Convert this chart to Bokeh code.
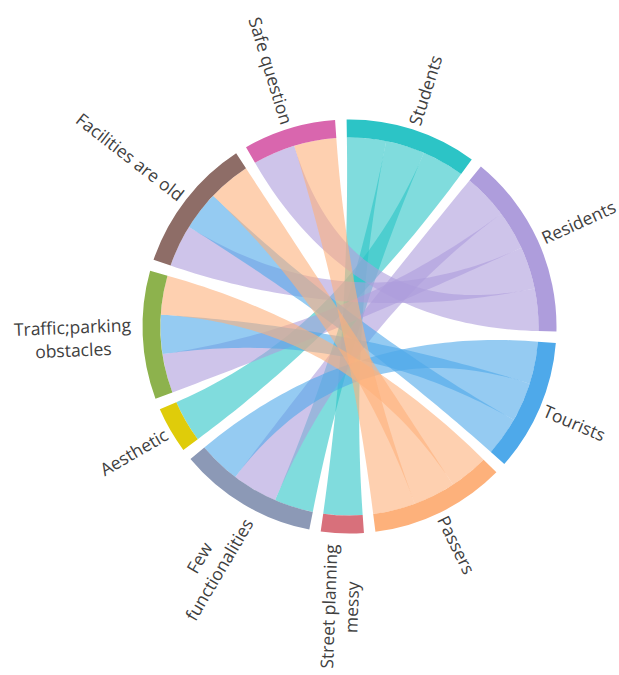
import numpy as np
from bokeh.plotting import figure
from bokeh.models import Range1d, ColumnDataSource
from bokeh.embed import file_html
from bokeh.resources import INLINE
from bokeh.core.properties import value

# ---------------- data ----------------
users = ["Students", "Residents", "Tourists", "Passers"]
problems = ["Street planning messy", "Few functionalities", "Aesthetic",
            "Traffic;parking obstacles", "Facilities are old", "Safe question"]
# links user -> problem (same order as problems)
students = [12, 12, 13, 0, 0, 0]
residents = [0, 14, 0, 12, 13, 13]
tourists = [0, 13, 0, 12, 12, 0]
passers = [0, 0, 0, 12, 13, 13]
label_lines = {
    "Street planning messy": ["Street planning", "messy"],
    "Few functionalities": ["Few", "functionalities"],
    "Traffic;parking obstacles": ["Traffic;parking", "obstacles"],
}
user_colors = ["#2cc4c6", "#ae9ddc", "#4ea9ea", "#fdb17b"]
problem_colors = ["#d8707b", "#8c99b6", "#dfcc0a", "#8db24d", "#8e6d67", "#d966ae"]

# ---------------- layout ----------------
matrix = [students, residents, tourists, passers]
names = users + problems
colors = user_colors + problem_colors
nu, npb = len(users), len(problems)
user_tot = [sum(r) for r in matrix]
prob_tot = [sum(matrix[u][j] for u in range(nu)) for j in range(npb)]
totals = user_tot + prob_tot

PAD = 3.2
START = -0.8
R_OUT, R_IN = 207.0, 189.0
k = (360.0 - len(names) * PAD) / sum(totals)

arcs = []
pos = START
for t in totals:
    arcs.append((pos, pos + t * k))
    pos += t * k + PAD

# sub-ranges (d3-chord default order: by index of the other group)
usub = {}
for u in range(nu):
    p0 = arcs[u][0]
    for j in range(npb):
        v = matrix[u][j]
        if v > 0:
            usub[(u, j)] = (p0, p0 + v * k)
            p0 += v * k
psub = {}
for j in range(npb):
    p0 = arcs[nu + j][0]
    for u in range(nu):
        v = matrix[u][j]
        if v > 0:
            psub[(u, j)] = (p0, p0 + v * k)
            p0 += v * k


def pt(theta, r):
    t = np.radians(theta)
    return r * np.sin(t), r * np.cos(t)


def arc_pts(a0, a1, r, n=40):
    th = np.radians(np.linspace(a0, a1, n))
    return r * np.sin(th), r * np.cos(th)


def quad_pts(p0, p2, n=60):
    t = np.linspace(0, 1, n)
    x = (1 - t) ** 2 * p0[0] + t ** 2 * p2[0]
    y = (1 - t) ** 2 * p0[1] + t ** 2 * p2[1]
    return x, y


xs, ys, rc = [], [], []
for (u, j), (s0, s1) in usub.items():
    t0, t1 = psub[(u, j)]
    ax, ay = arc_pts(s0, s1, R_IN)
    bx, by = quad_pts(pt(s1, R_IN), pt(t0, R_IN))
    cx, cy = arc_pts(t0, t1, R_IN)
    dx, dy = quad_pts(pt(t1, R_IN), pt(s0, R_IN))
    xs.append(list(np.concatenate([ax, bx, cx, dx])))
    ys.append(list(np.concatenate([ay, by, cy, dy])))
    rc.append(user_colors[u])

# ---------------- figure ----------------
W, H = 619, 675
CX, CY = 349, 326  # circle centre inside the frame (pixels from top-left)
p = figure(width=W, height=H, output_backend="svg", toolbar_location=None,
           x_axis_type=None, y_axis_type=None, min_border=0,
           x_range=Range1d(-CX, W - CX), y_range=Range1d(CY - H, CY))
p.grid.visible = False
p.outline_line_color = None
p.background_fill_color = "white"

p.patches(xs="xs", ys="ys", fill_color="c", fill_alpha=0.6, line_alpha=0,
          source=ColumnDataSource(dict(xs=xs, ys=ys, c=rc)))

p.annular_wedge(x=0, y=0, inner_radius=R_IN, outer_radius=R_OUT,
                start_angle=[np.radians(90 - a1) for a0, a1 in arcs],
                end_angle=[np.radians(90 - a0) for a0, a1 in arcs],
                color=colors, line_alpha=0)

# ---------------- labels ----------------
FS = 17.5
LH = 23
CW = {'a': .556, 'b': .613, 'c': .476, 'd': .613, 'e': .561, 'f': .339, 'g': .548,
      'h': .614, 'i': .253, 'k': .525, 'l': .253, 'm': .93, 'n': .614, 'o': .604,
      'p': .613, 'q': .613, 'r': .408, 's': .477, 't': .353, 'u': .614, 'v': .501,
      'w': .778, 'y': .5, ' ': .26, ';': .266}


def text_w(s):
    return sum(CW.get(ch, .58) for ch in s) * FS


for g, name in enumerate(names):
    a0, a1 = arcs[g]
    tm = (a0 + a1) / 2.0
    out = np.array([np.sin(np.radians(tm)), np.cos(np.radians(tm))])
    right = (tm % 360) < 180
    ang = np.radians(90 - tm) if right else np.radians(90 - tm + 180)
    lines = label_lines.get(name, [name])
    common = dict(angle=ang, text_baseline="middle", text_font=value("Open Sans"),
                  text_font_size=f"{FS}px", text_color="#404040")
    if len(lines) == 1:
        ax_, ay_ = out * (R_OUT + 5)
        p.text(x=[ax_], y=[ay_], text=[name], text_align="left" if right else "right", **common)
    else:
        wmax = max(text_w(s) for s in lines)
        c = out * (R_OUT + 11 + wmax / 2.0)
        down = np.array([np.sin(ang), -np.cos(ang)])
        n = len(lines)
        for i, s in enumerate(lines):
            q = c + (i - (n - 1) / 2.0) * LH * down
            p.text(x=[q[0]], y=[q[1]], text=[s], text_align="center", **common)

open("out.html", "w").write(file_html(p, INLINE))
